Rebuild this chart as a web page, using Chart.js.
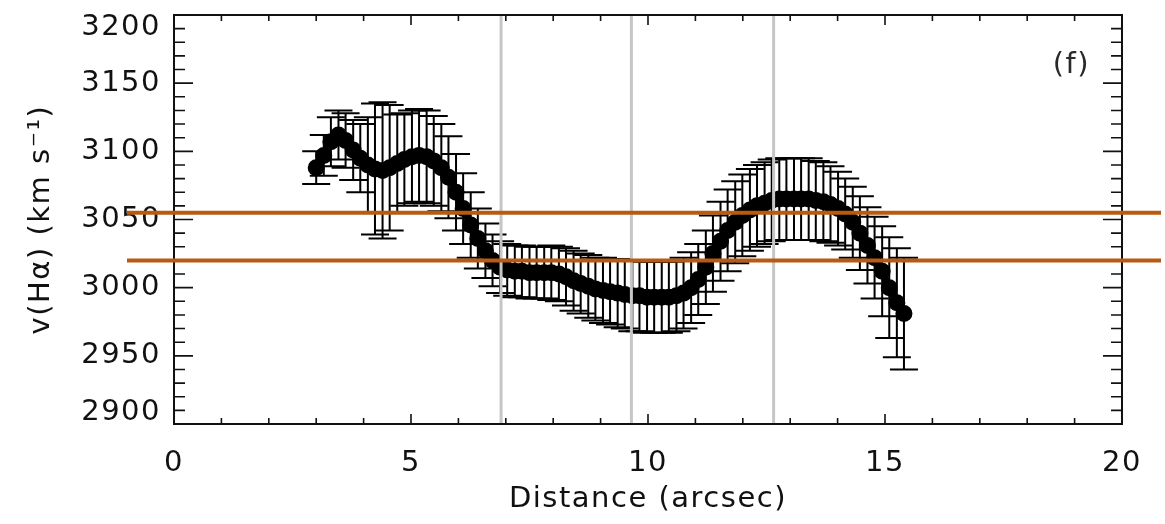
<!DOCTYPE html>
<html>
<head>
<meta charset="utf-8">
<script src="https://cdn.jsdelivr.net/npm/chart.js@4.4.1/dist/chart.umd.min.js"></script>
<style>
  html, body { margin: 0; padding: 0; background: #fff; }
</style>
</head>
<body>
<canvas id="chart" width="1165" height="524"></canvas>
<script>
// Data
const distance = [
  3.00, 3.16, 3.31, 3.47, 3.62, 3.78, 3.93, 4.09, 4.24, 4.40,
  4.55, 4.71, 4.86, 5.02, 5.17, 5.33, 5.48, 5.64, 5.79, 5.95,
  6.10, 6.26, 6.41, 6.57, 6.72, 6.88, 7.03, 7.19, 7.34, 7.50,
  7.65, 7.81, 7.96, 8.12, 8.27, 8.43, 8.58, 8.74, 8.89, 9.05,
  9.20, 9.36, 9.51, 9.67, 9.82, 9.98, 10.13, 10.29, 10.44, 10.60,
  10.75, 10.91, 11.06, 11.22, 11.37, 11.53, 11.68, 11.84, 11.99, 12.15,
  12.30, 12.46, 12.61, 12.77, 12.92, 13.08, 13.23, 13.39, 13.54, 13.70,
  13.85, 14.01, 14.16, 14.32, 14.47, 14.63, 14.78, 14.94, 15.09, 15.25,
  15.40
];
const velocity = [
  3088, 3097, 3107, 3112, 3108, 3101, 3095, 3090, 3087, 3086,
  3088, 3091, 3094, 3096, 3097, 3096, 3093, 3088, 3081, 3070,
  3058, 3046, 3036, 3027, 3020, 3015, 3013, 3012, 3012, 3011,
  3011, 3011, 3011, 3010, 3008, 3005, 3003, 3001, 2999, 2998,
  2997, 2996, 2995, 2994, 2994, 2993, 2993, 2993, 2993, 2994,
  2996, 3000, 3006, 3015, 3025, 3034, 3042, 3048, 3053, 3057,
  3060, 3062, 3064, 3065, 3065, 3065, 3065, 3065, 3064, 3063,
  3061, 3058, 3054, 3048, 3040, 3031, 3022, 3012, 3000, 2989,
  2981
];
const velocityErr = [
  12, 15, 18, 18, 20, 22, 25, 35, 48, 50,
  46, 36, 34, 34, 34, 34, 33, 32, 30, 28,
  26, 24, 22, 20, 19, 19, 19, 19, 19, 19,
  19, 19, 20, 20, 21, 22, 22, 23, 23, 24,
  24, 25, 25, 26, 26, 26, 26, 26, 26, 26,
  26, 26, 26, 27, 28, 29, 30, 30, 30, 30,
  30, 30, 30, 30, 30, 30, 30, 30, 29, 29,
  28, 27, 26, 26, 27, 28, 30, 33, 37, 40,
  41
];
const slitMarks = [6.90, 9.65, 12.65];
const refLevels = [3055, 3020];
const yTickValues = [2900, 2950, 3000, 3050, 3100, 3150, 3200];
const panelLabel = '(f)';

const ink = '#111';
const fontFamily = '"DejaVu Sans", sans-serif';
const textFont = { family: fontFamily, size: 29 };
const spacing = '1.5px';

// IDL-like wide lettering
const letterSpacingPlugin = {
  id: 'letterSpacing',
  beforeLayout(chart) { chart.ctx.letterSpacing = spacing; },
  beforeDraw(chart) { chart.ctx.letterSpacing = spacing; }
};

// Vertical error bars with wide caps
const errorBarPlugin = {
  id: 'errorBars',
  beforeDatasetsDraw(chart) {
    const { ctx, scales: { x, y } } = chart;
    ctx.save();
    ctx.strokeStyle = '#000';
    ctx.lineWidth = 2;
    distance.forEach((d, i) => {
      const px = x.getPixelForValue(d);
      const hi = y.getPixelForValue(velocity[i] + velocityErr[i]);
      const lo = y.getPixelForValue(velocity[i] - velocityErr[i]);
      ctx.beginPath();
      ctx.moveTo(px, hi); ctx.lineTo(px, lo);
      ctx.moveTo(px - 14, hi); ctx.lineTo(px + 14, hi);
      ctx.moveTo(px - 14, lo); ctx.lineTo(px + 14, lo);
      ctx.stroke();
    });
    ctx.restore();
  }
};

// Box, inward ticks, y labels, panel tag, reference lines
const framePlugin = {
  id: 'frame',
  afterDraw(chart) {
    const { ctx, chartArea: a, scales: { x, y } } = chart;
    ctx.save();
    ctx.strokeStyle = ink;
    ctx.lineWidth = 2;
    ctx.strokeRect(a.left, a.top, a.right - a.left, a.bottom - a.top);

    ctx.beginPath();
    for (let v = x.min; v <= x.max; v += 1) {
      const px = x.getPixelForValue(v);
      const len = v % 5 === 0 ? 10 : 6;
      ctx.moveTo(px, a.bottom); ctx.lineTo(px, a.bottom - len);
      ctx.moveTo(px, a.top); ctx.lineTo(px, a.top + len);
    }
    for (let v = y.min; v <= y.max; v += 10) {
      const py = y.getPixelForValue(v);
      const len = v % 50 === 0 ? 19 : 11;
      ctx.moveTo(a.left, py); ctx.lineTo(a.left + len, py);
      ctx.moveTo(a.right, py); ctx.lineTo(a.right - len, py);
    }
    ctx.lineWidth = 1.6;
    ctx.stroke();

    ctx.fillStyle = ink;
    ctx.font = `29px ${fontFamily}`;
    ctx.textAlign = 'right';
    ctx.textBaseline = 'middle';
    yTickValues.forEach(v => {
      const py = Math.min(Math.max(y.getPixelForValue(v), a.top + 12), a.bottom - 12);
      ctx.fillText(String(v), a.left - 13, py);
    });

    ctx.fillStyle = '#2a2a2a';
    ctx.fillText(panelLabel, a.right - 32, a.top + 50);

    ctx.strokeStyle = '#ba5a12';
    ctx.lineWidth = 4;
    refLevels.forEach(v => {
      const py = y.getPixelForValue(v);
      ctx.beginPath();
      ctx.moveTo(a.left - 47, py);
      ctx.lineTo(chart.width - 4, py);
      ctx.stroke();
    });
    ctx.restore();
  }
};

const ctx = document.getElementById('chart').getContext('2d');
new Chart(ctx, {
  type: 'scatter',
  data: {
    datasets: [
      {
        label: 'v(Hα)',
        data: distance.map((d, i) => ({ x: d, y: velocity[i] })),
        showLine: true,
        borderColor: '#000',
        backgroundColor: '#000',
        borderWidth: 7,
        pointRadius: 5,
        pointHoverRadius: 5,
        order: 1
      },
      ...slitMarks.map(m => ({
        data: [{ x: m, y: 2900 }, { x: m, y: 3200 }],
        showLine: true,
        borderColor: '#c6c6c6',
        borderWidth: 3,
        pointRadius: 0,
        order: 0
      }))
    ]
  },
  options: {
    responsive: false,
    animation: false,
    devicePixelRatio: 1,
    layout: { padding: { left: 0, top: 15, right: 43, bottom: 0 } },
    plugins: { legend: { display: false }, tooltip: { enabled: false } },
    scales: {
      x: {
        type: 'linear',
        min: 0,
        max: 20,
        afterFit: s => { s.height = 100; },
        grid: { display: false, drawTicks: false },
        border: { display: false },
        ticks: { stepSize: 5, padding: 22, color: ink, font: textFont, maxRotation: 0 },
        title: { display: true, text: 'Distance (arcsec)', color: ink, font: textFont, padding: { top: 0, bottom: 7 } }
      },
      y: {
        type: 'linear',
        min: 2900,
        max: 3200,
        afterFit: s => { s.width = 174; },
        grid: { display: false, drawTicks: false },
        border: { display: false },
        ticks: { display: false, stepSize: 50 },
        title: { display: true, text: 'v(Hα) (km s⁻¹)', color: ink, font: textFont, padding: { top: 24, bottom: 0 } }
      }
    }
  },
  plugins: [letterSpacingPlugin, errorBarPlugin, framePlugin]
});
</script>
</body>
</html>
